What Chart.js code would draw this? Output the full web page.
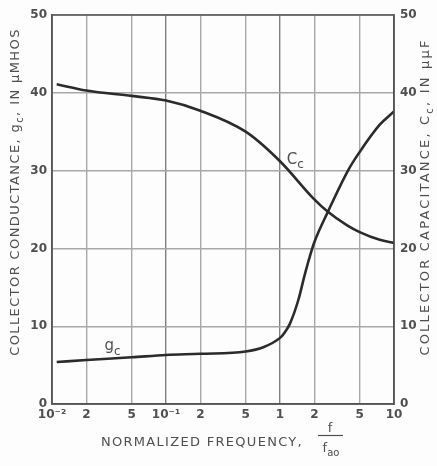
<!DOCTYPE html>
<html>
<head>
<meta charset="utf-8">
<script src="https://cdn.jsdelivr.net/npm/chart.js@4/dist/chart.umd.min.js"></script>
<style>
  html, body { margin: 0; padding: 0; background: #fdfdfd; }
  canvas { display: block; }
</style>
</head>
<body>
<canvas id="c" width="437" height="466" style="width:437px;height:466px"></canvas>
<script>
// ---- data ----
const ccFreq = [0.011, 0.02, 0.05, 0.1, 0.2, 0.5, 1.0, 2.0, 2.63, 3.85, 5.0, 7.5, 10];
const ccValues = [41.1, 40.3, 39.6, 39.0, 37.7, 35.0, 31.2, 26.3, 24.7, 23.0, 22.1, 21.1, 20.7];

const gcFreq = [0.011, 0.02, 0.05, 0.1, 0.2, 0.5, 0.714, 1.0, 1.1, 1.22, 1.45, 1.66, 1.9, 2.0, 2.63, 3.98, 5.0, 7.5, 10];
const gcValues = [5.4, 5.65, 6.0, 6.3, 6.45, 6.75, 7.3, 8.5, 9.2, 10.3, 13.4, 16.8, 19.8, 20.8, 24.7, 30.1, 32.4, 35.9, 37.6];

const xTickValues = [0.01, 0.02, 0.05, 0.1, 0.2, 0.5, 1, 2, 5, 10];
const xTickLabels = ['10\u207B\u00B2', '2', '5', '10\u207B\u00B9', '2', '5', '1', '2', '5', '10'];
const yTickValues = [0, 10, 20, 30, 40, 50];

const TEXT = '#4f4f4f';
const LINE = '#2b2b2b';
const FONT = '"DejaVu Sans", sans-serif';

function drawParts(ctx, parts, x, y, rot, size, spacing) {
  ctx.save();
  ctx.translate(x, y);
  ctx.rotate(rot);
  ctx.fillStyle = TEXT;
  ctx.textBaseline = 'alphabetic';
  ctx.textAlign = 'left';
  let total = 0;
  const widths = parts.map(p => {
    ctx.font = (p.sub ? Math.round(size * 0.8) : size) + 'px ' + FONT;
    ctx.letterSpacing = spacing + 'px';
    const w = ctx.measureText(p.t).width;
    total += w;
    return w;
  });
  let cx = -total / 2;
  parts.forEach((p, i) => {
    ctx.font = (p.sub ? Math.round(size * 0.8) : size) + 'px ' + FONT;
    ctx.letterSpacing = spacing + 'px';
    ctx.fillText(p.t, cx, size * 0.36 + (p.sub ? size * 0.3 : 0));
    cx += widths[i];
  });
  ctx.restore();
}

const textPlugin = {
  id: 'texts',
  afterDraw(chart) {
    const ctx = chart.ctx;
    const a = chart.chartArea;
    const xs = chart.scales.x, ys = chart.scales.y;
    // frame
    ctx.save();
    ctx.strokeStyle = '#555';
    ctx.lineWidth = 1.5;
    ctx.strokeRect(a.left, a.top, a.right - a.left, a.bottom - a.top);
    ctx.restore();
    // left axis title
    drawParts(ctx, [{t: 'COLLECTOR CONDUCTANCE, g'}, {t: 'c', sub: true}, {t: ', IN \u03BCMHOS'}],
      14, 192, -Math.PI / 2, 13, 1.4);
    // right axis title
    drawParts(ctx, [{t: 'COLLECTOR CAPACITANCE, C'}, {t: 'c', sub: true}, {t: ', IN \u03BC\u03BCF'}],
      424, 197, -Math.PI / 2, 13, 2.2);
    // x title
    drawParts(ctx, [{t: 'NORMALIZED FREQUENCY,'}], 202, 441, 0, 13, 1.3);
    // fraction f / f_ao
    drawParts(ctx, [{t: 'f'}], 330, 427, 0, 13, 0);
    ctx.save();
    ctx.strokeStyle = TEXT;
    ctx.lineWidth = 1.2;
    ctx.beginPath();
    ctx.moveTo(318, 435.5);
    ctx.lineTo(343, 435.5);
    ctx.stroke();
    ctx.restore();
    drawParts(ctx, [{t: 'f'}, {t: 'ao', sub: true}], 331, 447, 0, 13, 0);
    // curve labels
    drawParts(ctx, [{t: 'C', }, {t: 'c', sub: true}], xs.getPixelForValue(1.36), ys.getPixelForValue(31.6), 0, 15, 0);
    drawParts(ctx, [{t: 'g'}, {t: 'c', sub: true}], xs.getPixelForValue(0.034), ys.getPixelForValue(7.6), 0, 15, 0);
  }
};

new Chart(document.getElementById('c'), {
  type: 'line',
  data: {
    datasets: [
      {
        label: 'Cc',
        data: ccFreq.map((f, i) => ({x: f, y: ccValues[i]})),
        borderColor: LINE, borderWidth: 2.6, pointRadius: 0,
        cubicInterpolationMode: 'monotone', yAxisID: 'y2', fill: false
      },
      {
        label: 'gc',
        data: gcFreq.map((f, i) => ({x: f, y: gcValues[i]})),
        borderColor: LINE, borderWidth: 2.6, pointRadius: 0,
        cubicInterpolationMode: 'monotone', yAxisID: 'y', fill: false
      }
    ]
  },
  options: {
    responsive: false,
    devicePixelRatio: 1,
    animation: false,
    layout: { padding: { top: 15, left: 0, right: 0, bottom: 0 } },
    plugins: { legend: { display: false }, tooltip: { enabled: false } },
    scales: {
      x: {
        type: 'logarithmic', min: 0.01, max: 10,
        afterBuildTicks(scale) { scale.ticks = xTickValues.map(v => ({value: v})); },
        afterFit(scale) { scale.height = 62; },
        ticks: {
          autoSkip: false, maxRotation: 0, padding: 4,
          color: TEXT, font: { family: FONT, size: 12, weight: 'bold' },
          callback(value) {
            const i = xTickValues.findIndex(v => Math.abs(v - value) / v < 1e-6);
            return i >= 0 ? xTickLabels[i] : '';
          }
        },
        grid: {
          drawTicks: false, lineWidth: 1.4,
          color(ctx) {
            const v = ctx.tick && ctx.tick.value;
            return (v === 0.1 || v === 1) ? '#808080' : '#a8a8a8';
          }
        },
        border: { color: '#555', width: 1.5 }
      },
      y: {
        position: 'left', min: 0, max: 50,
        afterBuildTicks(scale) { scale.ticks = yTickValues.map(v => ({value: v})); },
        afterFit(scale) { scale.width = 52; },
        ticks: { padding: 5, color: TEXT, font: { family: FONT, size: 12, weight: 'bold' } },
        grid: { drawTicks: false, color: '#a8a8a8', lineWidth: 1.4 },
        border: { color: '#555', width: 1.5 }
      },
      y2: {
        position: 'right', min: 0, max: 50,
        afterBuildTicks(scale) { scale.ticks = yTickValues.map(v => ({value: v})); },
        afterFit(scale) { scale.width = 43; },
        ticks: { padding: 6, color: TEXT, font: { family: FONT, size: 12, weight: 'bold' } },
        grid: { drawTicks: false, drawOnChartArea: false },
        border: { color: '#555', width: 1.5 }
      }
    }
  },
  plugins: [textPlugin]
});
</script>
</body>
</html>
